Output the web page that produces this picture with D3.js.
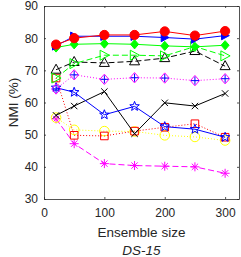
<!DOCTYPE html>
<html>
<head>
<meta charset="utf-8">
<script src="https://cdn.jsdelivr.net/npm/d3@7"></script>
<style>
  body { margin: 0; background: #fff; }
  text { font-family: "Liberation Sans", Arial, sans-serif; fill: #262626; }
</style>
</head>
<body>
<div id="chart"></div>
<script>
// ensemble sizes on the x axis
const sizes = [20, 50, 100, 150, 200, 250, 300];
const xTicks = [0, 100, 200, 300];
const yTicks = [30, 40, 50, 60, 70, 80, 90];

// NMI (%) per method
const redCircle    = [78.0, 80.0, 81.0, 81.0, 82.1, 80.8, 82.2];
const blueTri      = [77.6, 80.6, 80.6, 80.6, 80.2, 79.7, 80.8];
const greenDiamond = [77.1, 78.1, 78.3, 78.1, 77.6, 77.3, 77.8];
const greenTri     = [67.6, 72.1, 74.7, 74.7, 74.5, 77.4, 74.5];
const blackTri     = [70.2, 72.6, 72.3, 72.8, 73.8, 76.0, 71.3];
const magDiamond   = [64.2, 68.6, 67.2, 67.7, 67.6, 66.8, 67.4];
const blueStar     = [64.6, 63.2, 56.2, 58.8, 52.5, 51.7, 49.2];
const blackX       = [56.0, 58.9, 63.4, 50.3, 59.9, 58.9, 62.8];
const redSquare    = [67.6, 49.8, 49.6, 51.1, 52.3, 53.4, 49.2];
const yellowCircle = [55.3, 51.5, 51.1, 51.0, 49.8, 49.3, 48.2];
const magAsterisk  = [54.9, 47.2, 41.0, 40.4, 40.2, 40.0, 38.0];

const width = 241, height = 257;
const margin = {top: 6, right: 2, bottom: 58, left: 44};

const svg = d3.select("#chart").append("svg")
  .attr("width", width).attr("height", height);

const x = d3.scaleLinear().domain([0, 323]).range([margin.left, width - margin.right]);
const y = d3.scaleLinear().domain([30, 90]).range([height - margin.bottom, margin.top]);

// marker path builders, s = half size
const mk = {
  circle: s => `M${-s},0A${s},${s} 0 1,0 ${s},0A${s},${s} 0 1,0 ${-s},0Z`,
  right: s => `M${-s*0.85},${-s}L${s},0L${-s*0.85},${s}Z`,
  up: s => `M0,${-s*1.1}L${s},${s*0.7}L${-s},${s*0.7}Z`,
  diamond: s => `M0,${-s*1.15}L${s},0L0,${s*1.15}L${-s},0Z`,
  square: s => `M${-s},${-s}H${s}V${s}H${-s}Z`,
  plus: s => `M${-s},0H${s}M0,${-s}V${s}`,
  cross: s => `M${-s},${-s}L${s},${s}M${-s},${s}L${s},${-s}`,
  asterisk: s => `M${-s},0H${s}M0,${-s}V${s}M${-s*0.7},${-s*0.7}L${s*0.7},${s*0.7}M${-s*0.7},${s*0.7}L${s*0.7},${-s*0.7}`,
  star: s => {
    const p = [];
    for (let i = 0; i < 10; i++) {
      const r = i % 2 ? s * 0.42 : s;
      const a = -Math.PI / 2 + i * Math.PI / 5;
      p.push([r * Math.cos(a), r * Math.sin(a)]);
    }
    return "M" + p.map(d => d.join(",")).join("L") + "Z";
  }
};

const series = [
  {v: magAsterisk,  c: "#ff00ff", dash: "6,3", m: [["asterisk", 4.5, "none", "#ff00ff"]]},
  {v: yellowCircle, c: "#ffff00", dash: "1,2", m: [["circle", 4.8, "none", "#ffff00"]]},
  {v: redSquare,    c: "#ff0000", dash: "1,2", m: [["square", 3.8, "none", "#ff0000"]]},
  {v: blackX,       c: "#000000", dash: null,  m: [["cross", 3.2, "none", "#000000"]]},
  {v: blueStar,     c: "#0000ff", dash: null,  m: [["star", 5, "none", "#0000ff"]]},
  {v: magDiamond,   c: "#ff00ff", dash: "1,2", m: [["diamond", 4.5, "none", "#ff00ff"], ["plus", 4, "none", "#0000ff"]]},
  {v: blackTri,     c: "#000000", dash: "6,3", m: [["up", 5, "none", "#000000"]]},
  {v: greenTri,     c: "#00ff00", dash: "6,3", m: [["right", 5, "none", "#00ff00"]]},
  {v: greenDiamond, c: "#00ff00", dash: null,  m: [["diamond", 4, "#00ff00", "#00ff00"]]},
  {v: blueTri,      c: "#0000ff", dash: null,  m: [["right", 4.2, "#0000ff", "#0000ff"]]},
  {v: redCircle,    c: "#ff0000", dash: null,  m: [["circle", 4.6, "#ff0000", "#ff0000"]]}
];

const line = d3.line().x((d, i) => x(sizes[i])).y(d => y(d));

const plot = svg.append("g");
series.forEach(s => {
  plot.append("path")
    .attr("d", line(s.v))
    .attr("fill", "none")
    .attr("stroke", s.c)
    .attr("stroke-width", 1)
    .attr("stroke-dasharray", s.dash);
  s.m.forEach(([shape, size, fill, stroke]) => {
    plot.selectAll(null).data(s.v).join("path")
      .attr("transform", (d, i) => `translate(${x(sizes[i])},${y(d)})`)
      .attr("d", mk[shape](size))
      .attr("fill", fill)
      .attr("stroke", stroke)
      .attr("stroke-width", 1);
  });
});

// axes with inward ticks, MATLAB-style box
const axisColor = "#262626";
const xAxis = svg.append("g")
  .attr("transform", `translate(0,${y(30)})`)
  .call(d3.axisBottom(x).tickValues(xTicks).tickSizeInner(-2).tickSizeOuter(0).tickPadding(9));
const yAxis = svg.append("g")
  .attr("transform", `translate(${x(0)},0)`)
  .call(d3.axisLeft(y).tickValues(yTicks).tickSizeInner(-2).tickSizeOuter(0).tickPadding(6));
svg.append("g")
  .attr("transform", `translate(0,${y(90)})`)
  .call(d3.axisTop(x).tickValues(xTicks).tickSizeInner(-2).tickSizeOuter(0).tickFormat(""));
svg.append("g")
  .attr("transform", `translate(${x(323)},0)`)
  .call(d3.axisRight(y).tickValues(yTicks).tickSizeInner(-2).tickSizeOuter(0).tickFormat(""));

svg.selectAll(".domain, .tick line").attr("stroke", axisColor).attr("stroke-width", 0.8);
svg.selectAll(".tick text")
  .style("font-family", "'Liberation Sans', Arial, sans-serif")
  .style("font-size", "12px").attr("fill", axisColor);

svg.append("text")
  .attr("x", (x(0) + x(323)) / 2).attr("y", 236.5)
  .attr("text-anchor", "middle").style("font-size", "13.5px")
  .text("Ensemble size");

svg.append("text")
  .attr("x", (x(0) + x(323)) / 2).attr("y", 255)
  .attr("text-anchor", "middle").style("font-size", "13.5px").style("font-style", "italic")
  .text("DS-15");

svg.append("text")
  .attr("transform", `translate(18,${(y(30) + y(90)) / 2}) rotate(-90)`)
  .attr("text-anchor", "middle").style("font-size", "13.5px")
  .text("NMI (%)");
</script>
</body>
</html>
